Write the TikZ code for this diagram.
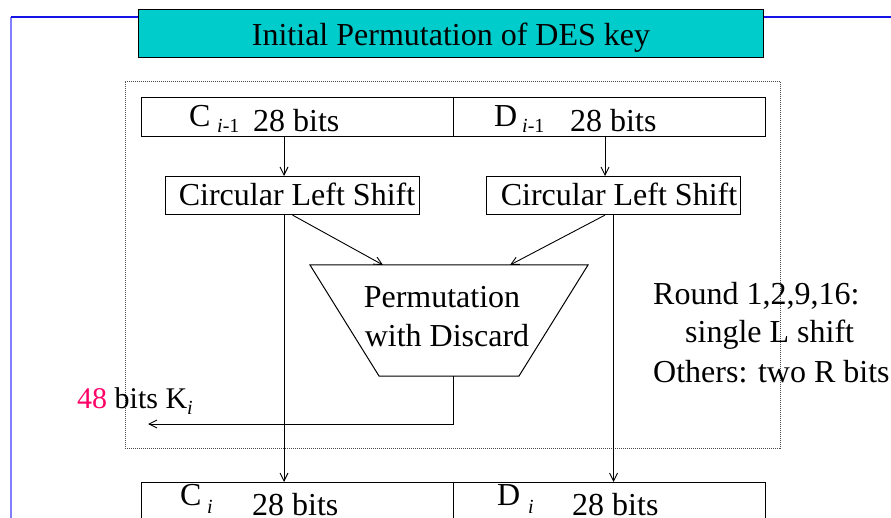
\documentclass[tikz,border=0pt]{standalone}
\usepackage{fontspec}
\setmainfont{Liberation Serif}
\usetikzlibrary{arrows.meta}
\definecolor{hdr}{RGB}{0,204,204}
\definecolor{pinkred}{RGB}{255,0,102}
\definecolor{lav}{RGB}{128,128,255}
\definecolor{bluel}{RGB}{20,20,230}
\newcommand{\bigf}{\fontsize{32}{38}\selectfont}
\newcommand{\subf}{\fontsize{20}{22}\selectfont}
\newcommand{\kif}{\fontsize{30}{36}\selectfont}
\begin{document}
\begin{tikzpicture}[x=1pt,y=-1pt,
  box/.style={draw=black, line width=1.1pt, inner sep=0pt, anchor=north west},
  lbl/.style={inner sep=0pt, anchor=base west, font=\bigf},
  arr/.style={line width=0.9pt, -{Straight Barb[length=8pt,width=8pt]}},
  ln/.style={line width=1pt}]
\clip (0,0) rectangle (891,518);
% header
\node[box, fill=hdr, minimum width=625pt, minimum height=48pt] (header) at (138,9) {};
\node[lbl, anchor=base] (htxt) at (451,46) {Initial Permutation of DES key};
% blue frame lines
\coordinate (bc) at (11,17);
\coordinate (bb) at (11,520);
\coordinate (br) at (891,17);
\draw[lav, line width=2.5pt] (bc) -- (bb);
\draw[bluel, line width=1.5pt] (bc) -- (bc -| header.west);
\draw[bluel, line width=1.5pt] (br -| header.east) -- (br);
% dotted frame
\node[draw=gray!60!black, line width=0.9pt, dash pattern=on 1pt off 1pt, inner sep=0pt,
      anchor=north west, minimum width=655pt, minimum height=367pt] (frame) at (125,81) {};
% boxes
\node[box, minimum width=312pt, minimum height=39pt] (cprev) at (141,97) {};
\node[box, minimum width=312pt, minimum height=39pt] (dprev) at (453,97) {};
\node[box, minimum width=254pt, minimum height=38pt] (shiftL) at (165,176) {};
\node[box, minimum width=254pt, minimum height=38pt] (shiftR) at (486,176) {};
\node[lbl, anchor=base] (shiftLt) at (297,206) {Circular Left Shift};
\node[lbl, anchor=base] (shiftRt) at (619,206) {Circular Left Shift};
\node[box, minimum width=312pt, minimum height=45pt] (cnext) at (141,482) {};
\node[box, minimum width=312pt, minimum height=45pt] (dnext) at (453,482) {};
% trapezoid
\coordinate (ptl) at (310,265);
\coordinate (ptr) at (588,265);
\coordinate (pbr) at (519,376);
\coordinate (pbl) at (379,376);
\draw[ln] (ptl) -- (ptr) -- (pbr) -- (pbl) -- cycle;
\node[lbl, anchor=base] (perm1) at (442,308) {Permutation};
\node[lbl, anchor=base] (perm2) at (447,346) {with Discard};
\coordinate (pin1) at (383,265);
\coordinate (pin2) at (510,265);
\coordinate (pout) at (453,376);
\coordinate (kend) at (148,424);
% columns
\coordinate (colL) at (284,0);
\coordinate (colR) at (605,0);
% connectors
\draw[arr] (cprev.south -| colL) -- (shiftL.north -| colL);
\draw[arr] (dprev.south -| colR) -- (shiftR.north -| colR);
\draw[arr] (shiftL.south -| colL) -- (cnext.north -| colL);
\draw[arr] (shiftR.south) -- (dnext.north -| shiftR.south);
\draw[arr] (shiftL.south) -- (pin1);
\draw[arr] (shiftR.south -| colR) -- (pin2);
\draw[arr] (pout) |- (kend);
% labels
\node[lbl] (c1) at (189,127) {C};
\node[lbl, font=\subf] (c1s) at (217,133) {\textit{i}-1};
\node[lbl] (c1b) at (253,132) {28 bits};
\node[lbl] (d1) at (494,127) {D};
\node[lbl, font=\subf] (d1s) at (522,133) {\textit{i}-1};
\node[lbl] (d1b) at (570,132) {28 bits};
\node[lbl] (c2) at (180,505) {C};
\node[lbl, font=\subf] (c2s) at (207,513) {\textit{i}};
\node[lbl] (c2b) at (252,515) {28 bits};
\node[lbl] (d2) at (497,505) {D};
\node[lbl, font=\subf] (d2s) at (528,513) {\textit{i}};
\node[lbl] (d2b) at (572,515) {28 bits};
\node[lbl, font=\kif] (ki) at (77,408) {\textcolor{pinkred}{48} bits K\raisebox{-6pt}{\subf\textit{i}}};
\node[lbl] (r1) at (653,305) {Round 1,2,9,16:};
\node[lbl] (r2) at (685,343) {single L shift};
\node[lbl] (r3) at (653,382) {Others: two R bits};
\end{tikzpicture}
\end{document}
